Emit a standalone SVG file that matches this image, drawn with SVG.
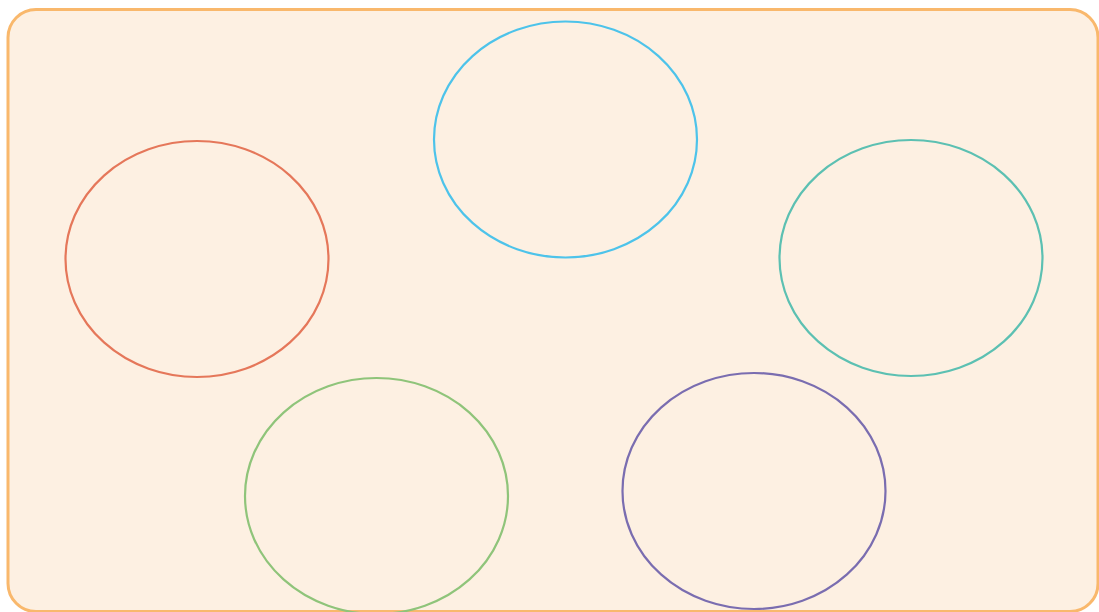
<svg xmlns="http://www.w3.org/2000/svg" width="1099" height="612" viewBox="0 0 1099 612">
<style>
.frame{fill:#FDF0E2;stroke:#F9B86C;stroke-width:3}
.n{fill:none;stroke-width:2.2}
</style>
<rect width="1099" height="612" fill="#FFFFFF"/>
<g id="frame"><rect class="frame" x="8" y="9.5" width="1090" height="602" rx="28" ry="28"/></g>
<g id="node-blue"><ellipse class="n" stroke="#4DC3EA" cx="565.5" cy="139.5" rx="131.5" ry="118"/></g>
<g id="node-red"><ellipse class="n" stroke="#E5775A" cx="197" cy="259" rx="131.5" ry="118"/></g>
<g id="node-teal"><ellipse class="n" stroke="#5CC0B2" cx="911" cy="258" rx="131.5" ry="118"/></g>
<g id="node-green"><ellipse class="n" stroke="#8FC47A" cx="376.5" cy="496" rx="131.5" ry="118"/></g>
<g id="node-purple"><ellipse class="n" stroke="#7A6DB0" cx="754" cy="491" rx="131.5" ry="118"/></g>
<g id="connectors"></g>
</svg>
